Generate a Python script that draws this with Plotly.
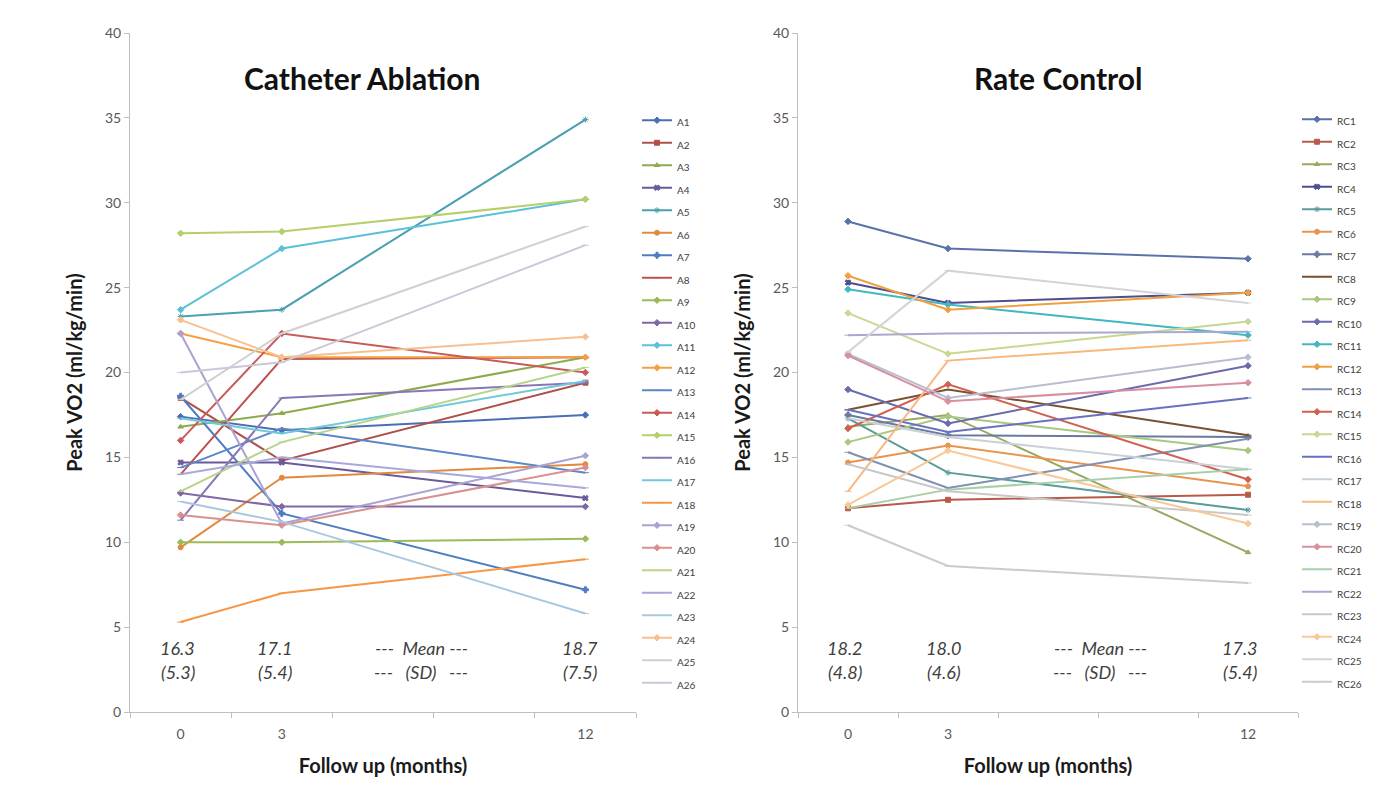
import plotly.graph_objects as go

months = [0, 3, 12]

# Catheter Ablation group: Peak VO2 at 0, 3, 12 months
ablation_names = [f"A{i}" for i in range(1, 27)]
ablation_values = [
    [17.4, 16.6, 17.5],  # A1
    [18.5, 14.8, 19.4],  # A2
    [16.8, 17.6, 20.9],  # A3
    [14.7, 14.7, 12.6],  # A4
    [23.3, 23.7, 34.9],  # A5
    [9.7, 13.8, 14.6],   # A6
    [18.6, 11.7, 7.2],   # A7
    [14.0, 20.8, 20.9],  # A8
    [10.0, 10.0, 10.2],  # A9
    [12.9, 12.1, 12.1],  # A10
    [23.7, 27.3, 30.2],  # A11
    [22.3, 20.9, 20.9],  # A12
    [14.4, 16.7, 14.1],  # A13
    [16.0, 22.3, 20.0],  # A14
    [28.2, 28.3, 30.2],  # A15
    [11.3, 18.5, 19.4],  # A16
    [17.3, 16.4, 19.5],  # A17
    [5.3, 7.0, 9.0],     # A18
    [22.3, 11.1, 15.1],  # A19
    [11.6, 11.0, 14.4],  # A20
    [13.0, 15.9, 20.3],  # A21
    [14.0, 15.0, 13.2],  # A22
    [12.4, 11.2, 5.8],   # A23
    [23.1, 20.9, 22.1],  # A24
    [18.4, 22.3, 28.6],  # A25
    [20.0, 20.6, 27.5],  # A26
]

# Rate Control group
rate_names = [f"RC{i}" for i in range(1, 27)]
rate_values = [
    [28.9, 27.3, 26.7],  # RC1
    [12.0, 12.5, 12.8],  # RC2
    [16.8, 17.5, 9.4],   # RC3
    [25.3, 24.1, 24.7],  # RC4
    [17.3, 14.1, 11.9],  # RC5
    [14.7, 15.7, 13.3],  # RC6
    [17.5, 16.3, 16.2],  # RC7
    [17.8, 19.0, 16.3],  # RC8
    [15.9, 17.4, 15.4],  # RC9
    [19.0, 17.0, 20.4],  # RC10
    [24.9, 24.0, 22.2],  # RC11
    [25.7, 23.7, 24.7],  # RC12
    [15.3, 13.2, 16.1],  # RC13
    [16.7, 19.3, 13.7],  # RC14
    [23.5, 21.1, 23.0],  # RC15
    [17.8, 16.5, 18.5],  # RC16
    [17.3, 16.2, 14.3],  # RC17
    [13.0, 20.7, 21.9],  # RC18
    [21.1, 18.5, 20.9],  # RC19
    [21.0, 18.3, 19.4],  # RC20
    [12.0, 13.1, 14.3],  # RC21
    [22.2, 22.3, 22.4],  # RC22
    [14.6, 13.0, 11.6],  # RC23
    [12.2, 15.4, 11.1],  # RC24
    [21.2, 26.0, 24.1],  # RC25
    [11.0, 8.6, 7.6],    # RC26
]

ablation_mean = ["16.3", "17.1", "18.7"]
ablation_sd = ["(5.3)", "(5.4)", "(7.5)"]
rate_mean = ["18.2", "18.0", "17.3"]
rate_sd = ["(4.8)", "(4.6)", "(5.4)"]

ablation_colors = [
    "#4A6FB5", "#B0504A", "#8DAA4E", "#6A5A9A", "#4A9FB0", "#E08A40",
    "#4F7CC0", "#C0504D", "#9BBB59", "#7F68A8", "#5BC0D8", "#F4A040",
    "#5B86C8", "#C85A5A", "#B5D06A", "#8877B8", "#70C8D8", "#F79646",
    "#ABA2D2", "#D89090", "#B8D48A", "#A8A8DC", "#A8C8E0", "#F8C090",
    "#D0D0D0", "#C8C8D8",
]
rate_colors = [
    "#5A72A8", "#B85A4A", "#9AA860", "#4E4E8E", "#5A9A9A", "#E89450",
    "#6A7A9E", "#7A5030", "#A8C880", "#6A6AAE", "#40B8C0", "#F0A040",
    "#8090B0", "#D06050", "#C8D890", "#6A70C0", "#C8D0D8", "#F8B880",
    "#B8BED0", "#D890A0", "#A8D0A8", "#A8A8D0", "#C8C8C8", "#F8C898",
    "#D4D4D8", "#D0C8CC",
]
symbols = ["diamond", "square", "triangle-up", "x", "asterisk", "circle",
           "cross", "line-ew", "diamond", "diamond", "diamond", "diamond",
           "line-ew", "diamond", "diamond", "line-ew", "line-ew", "line-ew",
           "diamond", "diamond", "line-ew", "line-ew", "line-ew", "diamond",
           "line-ew", "line-ew"]

FONT = "Lato, Liberation Sans, sans-serif"

fig = go.Figure()

for i, (nm, vals) in enumerate(zip(ablation_names, ablation_values)):
    fig.add_trace(go.Scatter(
        x=months, y=vals, mode="lines+markers",
        name=f'<span style="font-size:10px">{nm}</span>',
        line=dict(color=ablation_colors[i], width=2),
        marker=dict(symbol=symbols[i], size=5, color=ablation_colors[i],
                    line=dict(color=ablation_colors[i], width=1)),
        xaxis="x", yaxis="y", legend="legend"))

for i, (nm, vals) in enumerate(zip(rate_names, rate_values)):
    fig.add_trace(go.Scatter(
        x=months, y=vals, mode="lines+markers",
        name=f'<span style="font-size:10px">{nm}</span>',
        line=dict(color=rate_colors[i], width=2),
        marker=dict(symbol=symbols[i], size=5, color=rate_colors[i],
                    line=dict(color=rate_colors[i], width=1)),
        xaxis="x2", yaxis="y2", legend="legend2"))

# page body adds an 8px offset; work in screen pixels
OFF = 8
W, H = 1379 - OFF, 786 - OFF
def px(xp):
    return (xp - OFF) / W
def py(yp):
    return 1 - (yp - OFF) / H

axis_font = dict(family=FONT, size=14, color="#595959")
title_font = dict(family=FONT, size=20, color="#1a1a1a")

def xaxis_cfg(x0, x1, anchor):
    return dict(
        domain=[px(x0), px(x1)], anchor=anchor, range=[-1.5, 13.5],
        tickmode="array", tickvals=months, ticktext=[str(m) for m in months],
        ticks="", showgrid=False, zeroline=False, automargin=False,
        showline=True, linecolor="#BFBFBF", linewidth=1,
        tickfont=axis_font, ticklabelstandoff=9,
        minor=dict(tickmode="array", tickvals=[-1.5, 1.5, 4.5, 7.5, 10.5, 13.5],
                   ticks="outside", ticklen=5, tickcolor="#BFBFBF", showgrid=False),
        title=dict(text="<b>Follow up (months)</b>", font=title_font, standoff=18),
    )

def yaxis_cfg(anchor):
    return dict(
        domain=[py(712), py(33)], anchor=anchor, range=[0, 40],
        tickmode="linear", tick0=0, dtick=5, automargin=False,
        ticks="outside", ticklen=5, tickcolor="#BFBFBF",
        showgrid=False, zeroline=False,
        showline=True, linecolor="#BFBFBF", linewidth=1,
        tickfont=axis_font,
        title=dict(text="<b>Peak VO2 (ml/kg/min)</b>", font=title_font, standoff=16),
    )

legend_common = dict(
    font=dict(family=FONT, size=15, color="#404040"),
    bgcolor="rgba(0,0,0,0)", yanchor="top", xanchor="left",
    itemclick=False, itemdoubleclick=False, borderwidth=0,
)

fig.update_layout(
    width=W, height=H,
    margin=dict(l=0, r=0, t=0, b=0, autoexpand=False),
    paper_bgcolor="white", plot_bgcolor="white",
    xaxis=xaxis_cfg(130, 636, "y"),
    yaxis=yaxis_cfg("x"),
    xaxis2=xaxis_cfg(798, 1298, "y2"),
    yaxis2=yaxis_cfg("x2"),
    legend=dict(x=px(637), y=py(104), **legend_common),
    legend2=dict(x=px(1297), y=py(103), **legend_common),
    showlegend=True,
)

ann_font = dict(family=FONT, size=18, color="#404040")
title_ann_font = dict(family=FONT, size=30, color="#111111")
annotations = [
    dict(text="<b>Catheter Ablation</b>", x=px(362), y=py(78), xref="paper", yref="paper",
         xanchor="center", yanchor="middle", showarrow=False, font=title_ann_font),
    dict(text="<b>Rate Control</b>", x=px(1058), y=py(78), xref="paper", yref="paper",
         xanchor="center", yanchor="middle", showarrow=False, font=title_ann_font),
]
ab_x = [-0.09, 2.81, 11.85]
rc_x = [-0.09, 2.88, 11.76]
for xs, means, sds, xr, yr in [(ab_x, ablation_mean, ablation_sd, "x", "y"),
                               (rc_x, rate_mean, rate_sd, "x2", "y2")]:
    for xv, m, s in zip(xs, means, sds):
        annotations.append(dict(text=f"<i>{m}</i>", x=xv, y=3.77, xref=xr, yref=yr,
                                xanchor="center", showarrow=False, font=ann_font))
        annotations.append(dict(text=f"<i>{s}</i>", x=xv, y=2.36, xref=xr, yref=yr,
                                xanchor="center", showarrow=False, font=ann_font))
for xr, yr, xm in [("x", "y", 7.14), ("x2", "y2", 7.56)]:
    annotations.append(dict(text="<i>---  Mean ---</i>", x=xm, y=3.77, xref=xr, yref=yr,
                            xanchor="center", showarrow=False, font=ann_font))
    annotations.append(dict(text="<i>---   (SD)   ---</i>", x=xm, y=2.36, xref=xr, yref=yr,
                            xanchor="center", showarrow=False, font=ann_font))
fig.update_layout(annotations=annotations)

fig.write_html("out.html")
